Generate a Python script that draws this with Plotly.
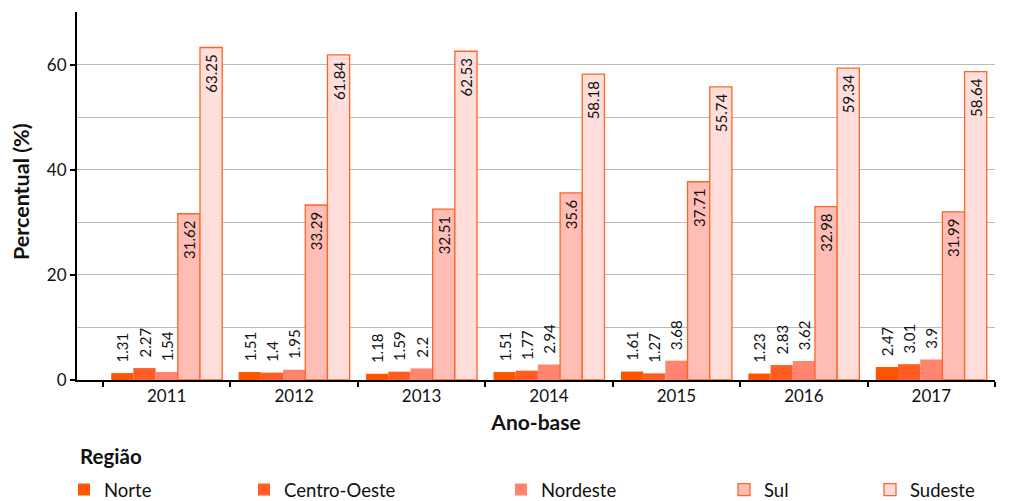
import plotly.graph_objects as go

anos = ["2011", "2012", "2013", "2014", "2015", "2016", "2017"]
norte = [1.31, 1.51, 1.18, 1.51, 1.61, 1.23, 2.47]
centro_oeste = [2.27, 1.4, 1.59, 1.77, 1.27, 2.83, 3.01]
nordeste = [1.54, 1.95, 2.2, 2.94, 3.68, 3.62, 3.9]
sul = [31.62, 33.29, 32.51, 35.6, 37.71, 32.98, 31.99]
sudeste = [63.25, 61.84, 62.53, 58.18, 55.74, 59.34, 58.64]

series = [
    ("Norte", norte, "#FF5500", "#FF5500", 0, "legend"),
    ("Centro-Oeste", centro_oeste, "#FF5D24", "#FF5D24", 0, "legend2"),
    ("Nordeste", nordeste, "#FF8570", "#FF8570", 0, "legend3"),
    ("Sul", sul, "#FFBDB6", "#FF6424", 1.3, "legend4"),
    ("Sudeste", sudeste, "#FFDEDB", "#FF6424", 1.3, "legend5"),
]

# page has an 8px body margin; figure is laid out in page pixels minus that offset
OFF = 8
W, H = 1005, 493
L = 77 - OFF
T = 12 - OFF
R = W - (995 - OFF)
B = H - (380 - OFF)
pw = W - L - R
ph = H - T - B

def cx(p):
    return (p - OFF) / W

def cy(p):
    return (H - (p - OFF)) / H

def px_x(p):
    return (p - OFF - L) / pw

def px_y(p):
    return (H - B - (p - OFF)) / ph

FONT = "Lato"
NB = "\u00a0"

fig = go.Figure()
for name, vals, fill, line, lw, leg in series:
    inside = [v > 10 for v in vals]
    fig.add_trace(go.Bar(
        x=anos, y=vals, name=name, legend=leg,
        marker=dict(color=fill, line=dict(color=line, width=lw)),
        text=[(f"{v:g}" + NB) if ins else (NB + NB + f"{v:g}") for v, ins in zip(vals, inside)],
        textposition=["inside" if ins else "outside" for ins in inside],
        insidetextanchor="end",
        textangle=-90,
        constraintext="none",
        textfont=dict(family=FONT, size=15, color="#111111"),
        cliponaxis=False,
    ))

square_centers = [86, 266, 523, 746, 892]
legend_names = ["legend", "legend2", "legend3", "legend4", "legend5"]
legend_layout = {}
for sc, ln in zip(square_centers, legend_names):
    legend_layout[ln] = dict(
        xref="container", yref="container",
        x=cx(sc - 22), y=cy(490), xanchor="left", yanchor="middle",
        orientation="h", bgcolor="rgba(0,0,0,0)", borderwidth=0,
        font=dict(family=FONT, size=18.5, color="#111111"),
        itemclick=False, itemdoubleclick=False,
    )

fig.update_layout(
    width=W, height=H,
    margin=dict(l=L, r=R, t=T, b=B, pad=0, autoexpand=False),
    plot_bgcolor="white", paper_bgcolor="white",
    barmode="group", bargap=0.129, bargroupgap=0,
    font=dict(family=FONT, color="#111111"),
    showlegend=True,
    **legend_layout,
    xaxis=dict(
        type="category", automargin=False,
        range=[-0.704, 6.5],
        showline=True, linecolor="black", linewidth=2,
        ticks="outside", tickson="boundaries", ticklen=5, tickwidth=2, tickcolor="black",
        tickfont=dict(family=FONT, size=17, color="#111111"),
        showgrid=False,
        title=dict(text="<b>Ano-base</b>", font=dict(family=FONT, size=21, color="#111111"), standoff=10),
    ),
    yaxis=dict(
        range=[0, 70], automargin=False,
        dtick=20, tick0=0,
        showline=True, linecolor="black", linewidth=2,
        ticks="outside", ticklen=5, tickwidth=2, tickcolor="black",
        tickfont=dict(family=FONT, size=17, color="#111111"),
        showgrid=True, gridcolor="#BBBBBB", gridwidth=1,
        minor=dict(dtick=10, showgrid=True, gridcolor="#BBBBBB", gridwidth=1),
        zeroline=False,
    ),
    annotations=[
        dict(text="<b>Percentual (%)</b>", x=px_x(21), y=px_y(192), xref="paper", yref="paper",
             xanchor="center", yanchor="middle", textangle=-90, showarrow=False,
             font=dict(family=FONT, size=21.5, color="#111111")),
        dict(text="<b>Região</b>", x=px_x(78), y=px_y(456), xref="paper", yref="paper",
             xanchor="left", yanchor="middle", showarrow=False,
             font=dict(family=FONT, size=20.5, color="#111111")),
    ],
)

fig.write_html("out.html")
